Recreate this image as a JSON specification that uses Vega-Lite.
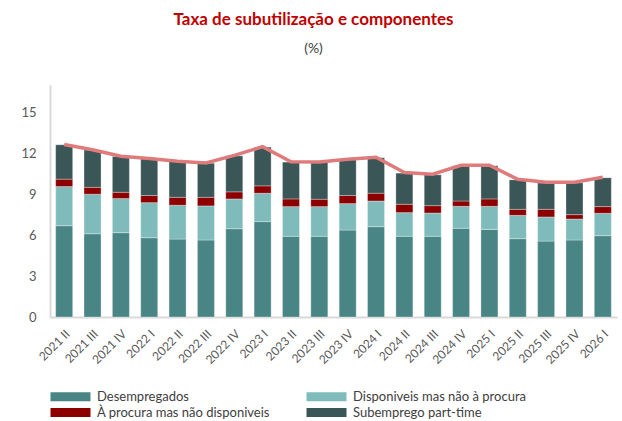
{
  "$schema": "https://vega.github.io/schema/vega-lite/v6.json",
  "width": 567,
  "height": 232,
  "autosize": "none",
  "padding": {"left": 50, "top": 85, "right": 5, "bottom": 104},
  "background": "white",
  "config": {"font": "Lato", "view": {"stroke": null}},
  "title": {
    "text": "Taxa de subutilização e componentes",
    "subtitle": "(%)",
    "color": "#C00000",
    "fontSize": 17,
    "fontWeight": "bold",
    "subtitleColor": "#404040",
    "subtitleFontSize": 14,
    "anchor": "middle",
    "frame": "group",
    "dx": -20,
    "offset": 28,
    "subtitlePadding": 13
  },
  "datasets": {
    "comp": [
      {"periodo": "2021 II", "componente": "Desempregados", "ordem": 1, "valor": 6.69},
      {"periodo": "2021 II", "componente": "Disponiveis mas não à procura", "ordem": 2, "valor": 2.87},
      {"periodo": "2021 II", "componente": "À procura mas não disponiveis", "ordem": 3, "valor": 0.54},
      {"periodo": "2021 II", "componente": "Subemprego part-time", "ordem": 4, "valor": 2.52},
      {"periodo": "2021 III", "componente": "Desempregados", "ordem": 1, "valor": 6.10},
      {"periodo": "2021 III", "componente": "Disponiveis mas não à procura", "ordem": 2, "valor": 2.90},
      {"periodo": "2021 III", "componente": "À procura mas não disponiveis", "ordem": 3, "valor": 0.50},
      {"periodo": "2021 III", "componente": "Subemprego part-time", "ordem": 4, "valor": 2.73},
      {"periodo": "2021 IV", "componente": "Desempregados", "ordem": 1, "valor": 6.18},
      {"periodo": "2021 IV", "componente": "Disponiveis mas não à procura", "ordem": 2, "valor": 2.50},
      {"periodo": "2021 IV", "componente": "À procura mas não disponiveis", "ordem": 3, "valor": 0.46},
      {"periodo": "2021 IV", "componente": "Subemprego part-time", "ordem": 4, "valor": 2.62},
      {"periodo": "2022 I", "componente": "Desempregados", "ordem": 1, "valor": 5.81},
      {"periodo": "2022 I", "componente": "Disponiveis mas não à procura", "ordem": 2, "valor": 2.57},
      {"periodo": "2022 I", "componente": "À procura mas não disponiveis", "ordem": 3, "valor": 0.52},
      {"periodo": "2022 I", "componente": "Subemprego part-time", "ordem": 4, "valor": 2.69},
      {"periodo": "2022 II", "componente": "Desempregados", "ordem": 1, "valor": 5.71},
      {"periodo": "2022 II", "componente": "Disponiveis mas não à procura", "ordem": 2, "valor": 2.48},
      {"periodo": "2022 II", "componente": "À procura mas não disponiveis", "ordem": 3, "valor": 0.58},
      {"periodo": "2022 II", "componente": "Subemprego part-time", "ordem": 4, "valor": 2.63},
      {"periodo": "2022 III", "componente": "Desempregados", "ordem": 1, "valor": 5.64},
      {"periodo": "2022 III", "componente": "Disponiveis mas não à procura", "ordem": 2, "valor": 2.50},
      {"periodo": "2022 III", "componente": "À procura mas não disponiveis", "ordem": 3, "valor": 0.63},
      {"periodo": "2022 III", "componente": "Subemprego part-time", "ordem": 4, "valor": 2.50},
      {"periodo": "2022 IV", "componente": "Desempregados", "ordem": 1, "valor": 6.47},
      {"periodo": "2022 IV", "componente": "Disponiveis mas não à procura", "ordem": 2, "valor": 2.18},
      {"periodo": "2022 IV", "componente": "À procura mas não disponiveis", "ordem": 3, "valor": 0.52},
      {"periodo": "2022 IV", "componente": "Subemprego part-time", "ordem": 4, "valor": 2.64},
      {"periodo": "2023 I", "componente": "Desempregados", "ordem": 1, "valor": 6.99},
      {"periodo": "2023 I", "componente": "Disponiveis mas não à procura", "ordem": 2, "valor": 2.08},
      {"periodo": "2023 I", "componente": "À procura mas não disponiveis", "ordem": 3, "valor": 0.54},
      {"periodo": "2023 I", "componente": "Subemprego part-time", "ordem": 4, "valor": 2.84},
      {"periodo": "2023 II", "componente": "Desempregados", "ordem": 1, "valor": 5.91},
      {"periodo": "2023 II", "componente": "Disponiveis mas não à procura", "ordem": 2, "valor": 2.18},
      {"periodo": "2023 II", "componente": "À procura mas não disponiveis", "ordem": 3, "valor": 0.56},
      {"periodo": "2023 II", "componente": "Subemprego part-time", "ordem": 4, "valor": 2.70},
      {"periodo": "2023 III", "componente": "Desempregados", "ordem": 1, "valor": 5.91},
      {"periodo": "2023 III", "componente": "Disponiveis mas não à procura", "ordem": 2, "valor": 2.18},
      {"periodo": "2023 III", "componente": "À procura mas não disponiveis", "ordem": 3, "valor": 0.54},
      {"periodo": "2023 III", "componente": "Subemprego part-time", "ordem": 4, "valor": 2.69},
      {"periodo": "2023 IV", "componente": "Desempregados", "ordem": 1, "valor": 6.37},
      {"periodo": "2023 IV", "componente": "Disponiveis mas não à procura", "ordem": 2, "valor": 1.94},
      {"periodo": "2023 IV", "componente": "À procura mas não disponiveis", "ordem": 3, "valor": 0.59},
      {"periodo": "2023 IV", "componente": "Subemprego part-time", "ordem": 4, "valor": 2.62},
      {"periodo": "2024 I", "componente": "Desempregados", "ordem": 1, "valor": 6.62},
      {"periodo": "2024 I", "componente": "Disponiveis mas não à procura", "ordem": 2, "valor": 1.88},
      {"periodo": "2024 I", "componente": "À procura mas não disponiveis", "ordem": 3, "valor": 0.57},
      {"periodo": "2024 I", "componente": "Subemprego part-time", "ordem": 4, "valor": 2.60},
      {"periodo": "2024 II", "componente": "Desempregados", "ordem": 1, "valor": 5.91},
      {"periodo": "2024 II", "componente": "Disponiveis mas não à procura", "ordem": 2, "valor": 1.74},
      {"periodo": "2024 II", "componente": "À procura mas não disponiveis", "ordem": 3, "valor": 0.61},
      {"periodo": "2024 II", "componente": "Subemprego part-time", "ordem": 4, "valor": 2.28},
      {"periodo": "2024 III", "componente": "Desempregados", "ordem": 1, "valor": 5.91},
      {"periodo": "2024 III", "componente": "Disponiveis mas não à procura", "ordem": 2, "valor": 1.71},
      {"periodo": "2024 III", "componente": "À procura mas não disponiveis", "ordem": 3, "valor": 0.54},
      {"periodo": "2024 III", "componente": "Subemprego part-time", "ordem": 4, "valor": 2.26},
      {"periodo": "2024 IV", "componente": "Desempregados", "ordem": 1, "valor": 6.50},
      {"periodo": "2024 IV", "componente": "Disponiveis mas não à procura", "ordem": 2, "valor": 1.61},
      {"periodo": "2024 IV", "componente": "À procura mas não disponiveis", "ordem": 3, "valor": 0.39},
      {"periodo": "2024 IV", "componente": "Subemprego part-time", "ordem": 4, "valor": 2.58},
      {"periodo": "2025 I", "componente": "Desempregados", "ordem": 1, "valor": 6.42},
      {"periodo": "2025 I", "componente": "Disponiveis mas não à procura", "ordem": 2, "valor": 1.69},
      {"periodo": "2025 I", "componente": "À procura mas não disponiveis", "ordem": 3, "valor": 0.54},
      {"periodo": "2025 I", "componente": "Subemprego part-time", "ordem": 4, "valor": 2.43},
      {"periodo": "2025 II", "componente": "Desempregados", "ordem": 1, "valor": 5.74},
      {"periodo": "2025 II", "componente": "Disponiveis mas não à procura", "ordem": 2, "valor": 1.71},
      {"periodo": "2025 II", "componente": "À procura mas não disponiveis", "ordem": 3, "valor": 0.44},
      {"periodo": "2025 II", "componente": "Subemprego part-time", "ordem": 4, "valor": 2.16},
      {"periodo": "2025 III", "componente": "Desempregados", "ordem": 1, "valor": 5.56},
      {"periodo": "2025 III", "componente": "Disponiveis mas não à procura", "ordem": 2, "valor": 1.77},
      {"periodo": "2025 III", "componente": "À procura mas não disponiveis", "ordem": 3, "valor": 0.56},
      {"periodo": "2025 III", "componente": "Subemprego part-time", "ordem": 4, "valor": 1.94},
      {"periodo": "2025 IV", "componente": "Desempregados", "ordem": 1, "valor": 5.64},
      {"periodo": "2025 IV", "componente": "Disponiveis mas não à procura", "ordem": 2, "valor": 1.54},
      {"periodo": "2025 IV", "componente": "À procura mas não disponiveis", "ordem": 3, "valor": 0.32},
      {"periodo": "2025 IV", "componente": "Subemprego part-time", "ordem": 4, "valor": 2.33},
      {"periodo": "2026 I", "componente": "Desempregados", "ordem": 1, "valor": 5.96},
      {"periodo": "2026 I", "componente": "Disponiveis mas não à procura", "ordem": 2, "valor": 1.64},
      {"periodo": "2026 I", "componente": "À procura mas não disponiveis", "ordem": 3, "valor": 0.49},
      {"periodo": "2026 I", "componente": "Subemprego part-time", "ordem": 4, "valor": 2.11}
    ],
    "taxa": [
      {"periodo": "2021 II", "valor": 12.64},
      {"periodo": "2021 III", "valor": 12.26},
      {"periodo": "2021 IV", "valor": 11.78},
      {"periodo": "2022 I", "valor": 11.62},
      {"periodo": "2022 II", "valor": 11.42},
      {"periodo": "2022 III", "valor": 11.29},
      {"periodo": "2022 IV", "valor": 11.84},
      {"periodo": "2023 I", "valor": 12.48},
      {"periodo": "2023 II", "valor": 11.38},
      {"periodo": "2023 III", "valor": 11.35},
      {"periodo": "2023 IV", "valor": 11.56},
      {"periodo": "2024 I", "valor": 11.70},
      {"periodo": "2024 II", "valor": 10.58},
      {"periodo": "2024 III", "valor": 10.46},
      {"periodo": "2024 IV", "valor": 11.12},
      {"periodo": "2025 I", "valor": 11.12},
      {"periodo": "2025 II", "valor": 10.09},
      {"periodo": "2025 III", "valor": 9.87},
      {"periodo": "2025 IV", "valor": 9.87},
      {"periodo": "2026 I", "valor": 10.24}
    ]
  },
  "encoding": {
    "x": {
      "field": "periodo",
      "type": "ordinal",
      "sort": null,
      "scale": {"paddingInner": 0.4, "paddingOuter": 0.2},
      "axis": {
        "title": null,
        "labelAngle": -45,
        "labelFontSize": 12,
        "labelColor": "#595959",
        "ticks": false,
        "labelPadding": 11,
        "domainColor": "#D9D9D9",
        "domainWidth": 2
      }
    },
    "y": {
      "field": "valor",
      "type": "quantitative",
      "scale": {"domain": [0, 17], "nice": false},
      "axis": {
        "title": null,
        "values": [0, 3, 6, 9, 12, 15],
        "grid": false,
        "ticks": false,
        "labelFontSize": 13,
        "labelColor": "#595959",
        "labelPadding": 14,
        "domainColor": "#D9D9D9",
        "domainWidth": 2
      }
    }
  },
  "layer": [
    {
      "data": {"name": "comp"},
      "mark": {"type": "bar", "stroke": "#ffffff", "strokeWidth": 0.6, "strokeOpacity": 0.5},
      "encoding": {
        "color": {
          "field": "componente",
          "type": "nominal",
          "scale": {
            "domain": ["Desempregados", "Disponiveis mas não à procura", "À procura mas não disponiveis", "Subemprego part-time"],
            "range": ["#4A8585", "#7FBBBB", "#8C0000", "#3A5656"]
          },
          "legend": {
            "orient": "none",
            "legendX": -1,
            "legendY": 305,
            "direction": "horizontal",
            "columns": 2,
            "columnPadding": 35,
            "rowPadding": 2,
            "title": null,
            "symbolType": "M-1,-0.9L7,-0.9L7,0.9L-1,0.9Z",
            "symbolSize": 100,
            "symbolStrokeWidth": 0,
            "labelFontSize": 13,
            "labelColor": "#404040",
            "labelOffset": 35,
            "labelLimit": 300
          }
        },
        "order": {"field": "ordem", "type": "quantitative"}
      }
    },
    {
      "data": {"name": "taxa"},
      "mark": {"type": "line", "color": "#E07B7B", "strokeWidth": 3.5},
      "encoding": {}
    }
  ]
}
